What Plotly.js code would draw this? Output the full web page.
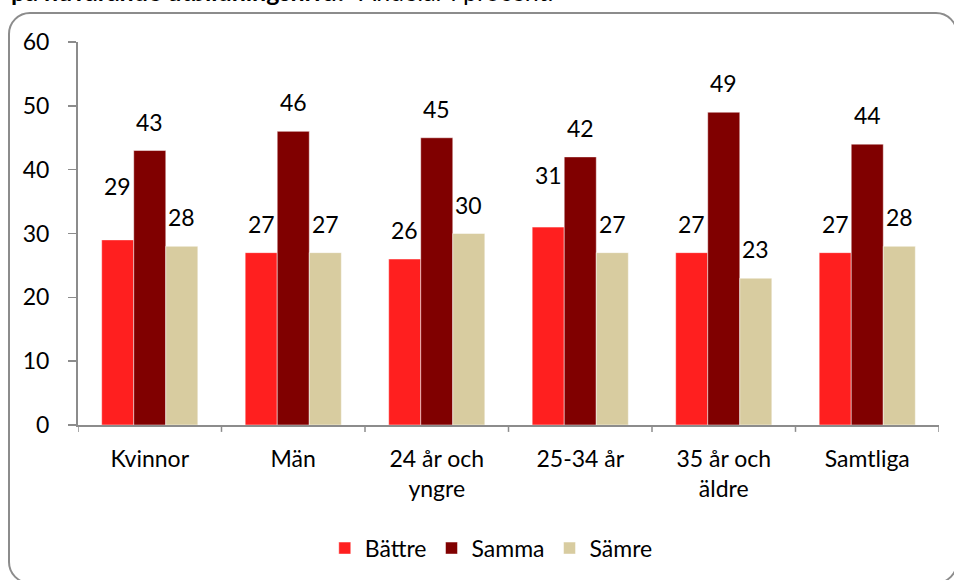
<!DOCTYPE html>
<html>
<head>
<meta charset="utf-8">
<script src="https://cdn.plot.ly/plotly-3.0.1.min.js"></script>
<style>
  html, body { margin:0; padding:0; width:954px; height:580px; overflow:hidden; background:#fff; }
  #frame { position:absolute; left:8px; top:12px; width:950px; height:572px; border:2px solid #8c8c8c; border-radius:22px; box-sizing:border-box; }
  #chart { position:absolute; left:0; top:0; width:954px; height:580px; }
</style>
</head>
<body>
<div id="frame"></div>
<div id="chart"></div>
<script>
const categories = ["Kvinnor", "Män", "24 år och<br>yngre", "25-34 år", "35 år och<br>äldre", "Samtliga"];
const seriesNames = ["Bättre", "Samma", "Sämre"];
const battre = [29, 27, 26, 31, 27, 27];
const samma  = [43, 46, 45, 42, 49, 44];
const samre  = [28, 27, 30, 27, 23, 28];
const yTicks = [0, 10, 20, 30, 40, 50, 60];
const colors = ["#FF1F1F", "#800000", "#D8CCA0"];
const titleText = "<b>på nuvarande utbildningsnivå?</b>  Andelar i procent.";

const values = [battre, samma, samre];
const FONT = "Lato, 'Open Sans', sans-serif";
const bargap = 0.33;
const barW = (1 - bargap) / 3;
// extra label lift (px) for labels that the source raised further above their bars
const extraLift = { "0-0": 25, "0-3": 23 };

const traces = values.map((v, k) => ({
  type: "bar",
  name: seriesNames[k],
  x: categories.map((c, i) => i),
  y: v,
  marker: { color: colors[k], line: { width: 0.8, color: "rgba(255,255,255,0.6)" } },
  hoverinfo: "skip"
}));

const annotations = [];
values.forEach((v, k) => {
  v.forEach((val, i) => {
    annotations.push({
      x: i + (k - 1) * barW, y: val, xref: "x", yref: "y",
      text: String(val), showarrow: false,
      yanchor: "middle", xanchor: "center",
      yshift: 29 + (extraLift[k + "-" + i] || 0),
      font: { family: FONT, size: 23, color: "#000" }
    });
  });
});
annotations.push({
  xref: "paper", yref: "paper", x: -0.08, y: 1.078,
  xanchor: "left", yanchor: "bottom", showarrow: false, yshift: 4,
  text: titleText, font: { family: FONT, size: 25, color: "#000" }
});

const layout = {
  width: 954, height: 580,
  margin: { l: 78, r: 15, t: 42, b: 154 },
  paper_bgcolor: "rgba(0,0,0,0)",
  plot_bgcolor: "rgba(0,0,0,0)",
  barmode: "group",
  bargap: bargap,
  bargroupgap: 0,
  showlegend: true,
  legend: {
    orientation: "h", x: 0.48, xanchor: "center", y: -0.318, yanchor: "middle",
    font: { family: FONT, size: 23, color: "#000" },
    itemwidth: 30, traceorder: "normal"
  },
  xaxis: {
    range: [-0.5, 5.5],
    tickmode: "array",
    tickvals: categories.map((c, i) => i),
    ticktext: categories,
    ticks: "",
    showline: true, linecolor: "#8c8c8c", linewidth: 2,
    showgrid: false, zeroline: false,
    tickfont: { family: FONT, size: 23, color: "#000" },
    ticklabelstandoff: 12,
    fixedrange: true
  },
  yaxis: {
    range: [0, 60],
    tickmode: "array", tickvals: yTicks, ticktext: yTicks.map(String),
    ticks: "outside", ticklen: 8, tickwidth: 1.5, tickcolor: "#8c8c8c",
    showline: true, linecolor: "#8c8c8c", linewidth: 2,
    showgrid: false, zeroline: false,
    tickfont: { family: FONT, size: 23, color: "#000" },
    ticklabelstandoff: 14,
    fixedrange: true
  },
  annotations: annotations
};

// x-axis ticks at category boundaries
const boundaryShapes = [];
for (let i = 0; i <= categories.length; i++) {
  boundaryShapes.push({
    type: "line", xref: "x", yref: "paper",
    x0: i - 0.5, x1: i - 0.5, y0: 0, y1: -0.018,
    line: { color: "#8c8c8c", width: 1.5 }
  });
}
layout.shapes = boundaryShapes;

Plotly.newPlot("chart", traces, layout, { displayModeBar: false, staticPlot: true });
</script>
</body>
</html>
